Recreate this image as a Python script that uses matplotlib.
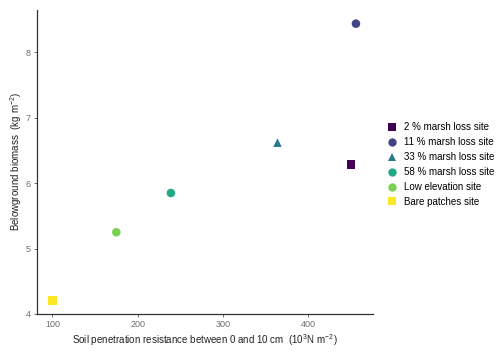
import matplotlib
matplotlib.use("Agg")
import matplotlib.pyplot as plt
from matplotlib.lines import Line2D

plt.rcParams['font.family'] = ['Liberation Sans', 'DejaVu Sans']

# Data
sites = ["2 % marsh loss site", "11 % marsh loss site", "33 % marsh loss site",
         "58 % marsh loss site", "Low elevation site", "Bare patches site"]
resistance = [450, 456, 364, 239, 175, 100]
biomass = [6.29, 8.44, 6.62, 5.85, 5.25, 4.21]
markers = ["s", "o", "^", "o", "o", "s"]
colors = ["#440154", "#414487", "#2A788E", "#22A884", "#7AD151", "#FDE725"]

fig = plt.figure(figsize=(5, 3.54), dpi=100)
ax = fig.add_axes([0.074, 0.113, 0.672, 0.859])

for x, y, m, c in zip(resistance, biomass, markers, colors):
    ax.scatter(x, y, marker=m, color=c, s=38, edgecolors="none", zorder=3)

ax.set_xlim(82, 476)
ax.set_ylim(4.0, 8.65)
ax.set_xticks([100, 200, 300, 400])
ax.set_yticks([4, 5, 6, 7, 8])

for s in ["top", "right"]:
    ax.spines[s].set_visible(False)
for s in ["left", "bottom"]:
    ax.spines[s].set_color("#333333")
    ax.spines[s].set_linewidth(0.9)
ax.tick_params(colors="#555555", labelsize=6.5, length=2.5, width=0.6, pad=2)
ax.tick_params(axis="both", labelcolor="#6e6e6e")

ax.set_xlabel(r"Soil penetration resistance between 0 and 10 cm  ($\mathregular{10^3N\ m^{-2}}$)",
              fontsize=7, color="#222222", labelpad=2)
ax.set_ylabel(r"Belowground biomass  ($\mathregular{kg\ m^{-2}}$)",
              fontsize=7, color="#222222", labelpad=1)

handles = [Line2D([], [], linestyle="none", marker=m, color=c, markersize=6,
                  markeredgewidth=0) for m, c in zip(markers, colors)]
fig.legend(handles, sites, loc="upper left", bbox_to_anchor=(0.765, 0.665),
           frameon=False, fontsize=7, handletextpad=0.6, labelspacing=0.5,
           handlelength=1.2, borderaxespad=0)

fig.savefig("out.png", dpi=100)
